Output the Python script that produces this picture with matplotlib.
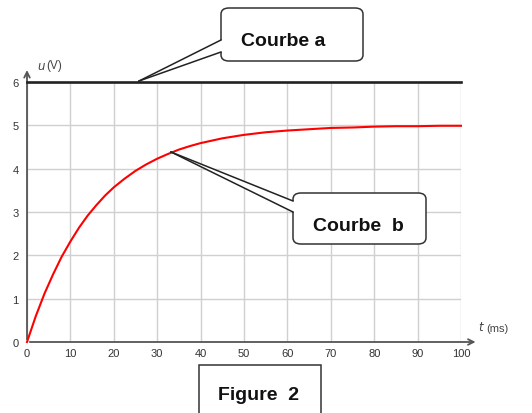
import matplotlib
matplotlib.use("Agg")
import matplotlib.pyplot as plt
from matplotlib.patches import FancyBboxPatch, Rectangle, Polygon

# values
t_b = [0, 2, 4, 6, 8, 10, 12, 14, 16, 18, 20, 22.5, 25, 27.5, 30, 32.5, 35,
       37.5, 40, 45, 50, 55, 60, 65, 70, 75, 80, 85, 90, 95, 100]
u_b = [0, 0.59, 1.11, 1.56, 1.97, 2.32, 2.64, 2.92, 3.16, 3.38, 3.57, 3.77,
       3.95, 4.10, 4.23, 4.34, 4.44, 4.52, 4.59, 4.70, 4.78, 4.84, 4.88, 4.91,
       4.94, 4.95, 4.97, 4.98, 4.98, 4.99, 4.99]
t_a = [0, 100]
u_a = [6, 6]
x_ticks = [0, 10, 20, 30, 40, 50, 60, 70, 80, 90, 100]
y_ticks = [0, 1, 2, 3, 4, 5, 6]

W, H = 532, 414
FONT = ['Liberation Sans Narrow', 'Liberation Sans', 'DejaVu Sans']


def px(x, y):
    # pixel position -> figure fraction
    return (x / W, 1 - y / H)


fig = plt.figure(figsize=(W / 100, H / 100), dpi=100)
ax = fig.add_axes([27 / W, 1 - 343 / H, (461 - 27) / W, (343 - 83) / H])
ax.set_xlim(0, 100)
ax.set_ylim(0, 6)

ax.set_xticks(x_ticks)
ax.set_yticks(y_ticks)
ax.grid(True, color='#d0d0d0', lw=1.0)
ax.tick_params(length=0, labelsize=8, labelcolor='#333333')
ax.tick_params(axis='y', pad=6)
ax.tick_params(axis='x', pad=4)
for lab in ax.get_xticklabels() + ax.get_yticklabels():
    lab.set_family(FONT)
for s in ax.spines.values():
    s.set_visible(False)

# axes with arrows
ax.annotate('', xy=(0, 6.34), xytext=(0, 0), annotation_clip=False,
            arrowprops=dict(arrowstyle='->', color='#555555', lw=1.3))
ax.annotate('', xy=(104, 0), xytext=(0, 0), annotation_clip=False,
            arrowprops=dict(arrowstyle='->', color='#555555', lw=1.3))

ax.plot(t_a, u_a, color='#222222', lw=1.9, clip_on=False, zorder=5)
ax.plot(t_b, u_b, color='#ff0000', lw=1.5, clip_on=False, zorder=5)

fig.text(*px(37, 66), '$u$', fontsize=8.5, color='#444444', va='center')
fig.text(*px(46, 66), '(V)', fontsize=8.5, color='#444444', va='center', family=FONT)
fig.text(*px(478, 328), '$t$', fontsize=8.5, color='#444444', va='center')
fig.text(*px(486, 329), '(ms)', fontsize=8, color='#444444', va='center', family=FONT)


def bubble(x0, y0, x1, y1, a1, a2, tip, label, tx, ty):
    # rounded box with a wedge pointing to tip (pixel coords)
    tr = fig.transFigure
    box = FancyBboxPatch(px(x0, y1), (x1 - x0) / W, (y1 - y0) / H,
                         boxstyle='round,pad=0,rounding_size=0.015',
                         transform=tr, fc='white', ec='#333333', lw=1.1, zorder=10)
    fig.patches.append(box)
    wedge = Polygon([px(x0 + 3, a1), px(x0, a1), px(*tip), px(x0, a2), px(x0 + 3, a2)],
                    closed=True, transform=tr, fc='white', ec='none', zorder=11)
    fig.patches.append(wedge)
    for a in (a1, a2):
        fig.lines.append(plt.Line2D([x0 / W, tip[0] / W], [1 - a / H, 1 - tip[1] / H],
                                    transform=tr, color='#222222', lw=1.1, zorder=12))
    fig.text(*px(tx, ty), label, fontsize=14, fontweight='bold', color='#111111',
             ha='center', va='center', family=FONT, zorder=13)


bubble(221, 9, 363, 62, 41, 53, (139, 82), 'Courbe a', 283, 42)
bubble(293, 194, 426, 245, 202, 213, (171, 153), 'Courbe  b', 358, 227)

fig.patches.append(Rectangle(px(199, 420), (321 - 199) / W, (420 - 366) / H,
                             transform=fig.transFigure, fc='white', ec='#333333',
                             lw=1.1, clip_on=False))
fig.text(*px(258, 396), 'Figure  2', fontsize=14, fontweight='bold', color='#111111',
         ha='center', va='center', family=FONT)

fig.savefig('out.png', dpi=100)
